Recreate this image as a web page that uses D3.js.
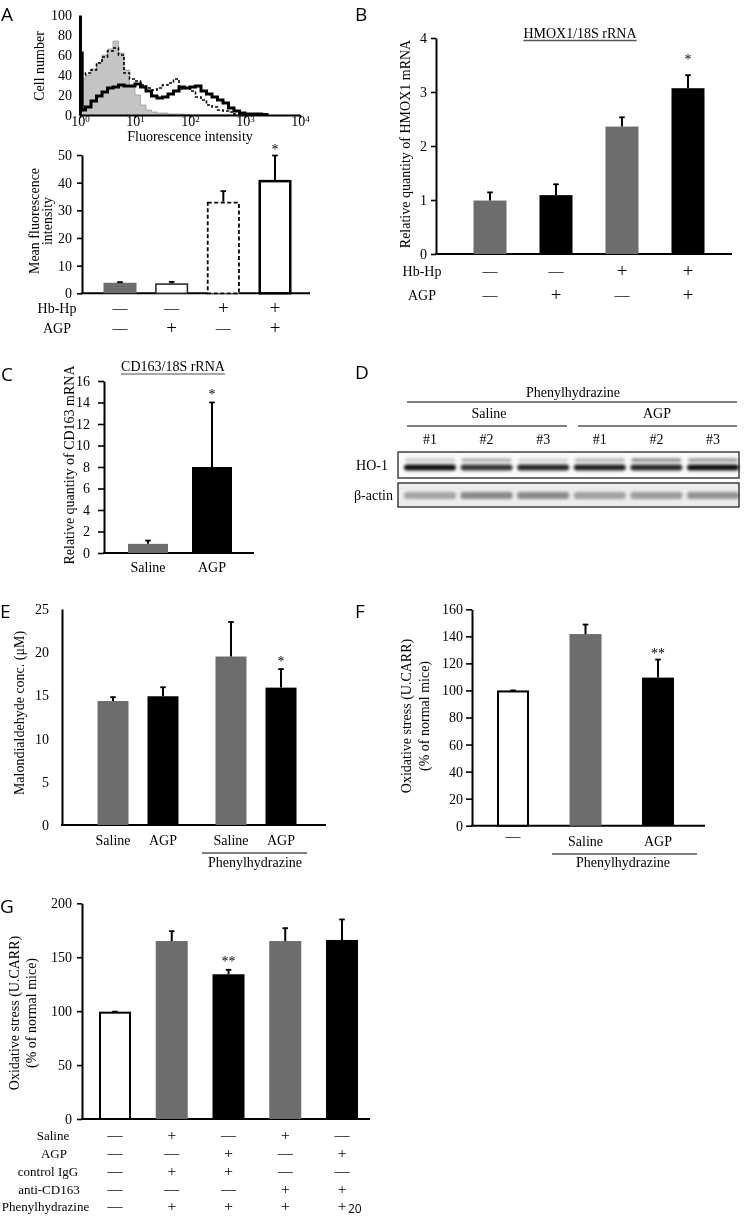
<!DOCTYPE html>
<html><head><meta charset="utf-8">
<script src="https://cdn.jsdelivr.net/npm/d3@7"></script>
<style>
body{margin:0;background:#fff}
svg{will-change:transform}
svg text{font-family:"Liberation Serif","Times New Roman",serif;font-size:14px;fill:#000}
svg text.plabel{font-family:"Open Sans","Liberation Sans",sans-serif;font-size:19px}
svg text.page{font-family:"Open Sans","Liberation Sans",sans-serif;font-size:12px}
svg text.sign{font-size:19px}
svg text.dash{font-size:15px}
svg text.sign.small{font-size:15.5px}
</style></head><body>
<svg id="fig" width="745" height="1217"></svg>
<script>
// ---------------- DATA ----------------
// Panel A (histogram): log10 fluorescence intensity bins and cell counts
const histLogX = [0,0.04,0.1,0.2,0.3,0.4,0.5,0.6,0.7,0.8,0.9,1.0,1.1,1.2,1.3,1.4,1.5,1.6,1.7,1.8,1.9,2.0,2.1,2.2,2.3,2.4,2.5,2.6,2.7,2.8,2.9,3.0,3.1,3.2,3.3,3.4];
const histControl = [35,36,40,46,52,60,66,74,62,45,30,20,10,5,3,2,2,1,1,1,0.5,0,0,0,0,0,0,0,0,0,0,0,0,0,0,0];
const histHbHp    = [40,40,42,45,52,58,64,67,60,42,36,34,30,27,25,27,30,32,36,26,27,24,18,15,10,8,5,4,3,1,0,0,0,0,0,0];
const histHbHpAgp = [62,5,8,14,19,23,27,28,30,29,29,31,28,24,19,17,18,21,24,28,27,28,29,24,21,18,15,12,7,4,2,1,1,1,0.5,0];
const histXTicks = [1,10,100,1000,10000];
const histYTicks = [0,20,40,60,80,100];

// Panel A (bars): mean fluorescence intensity
const mfiValues = [3.8,3.6,33.1,41.0];
const mfiErrors = [0.4,0.7,4.0,9.0];
const aHbHp = ["—","—","+","+"];
const aAGP  = ["—","+","—","+"];

// Panel B: HMOX1/18S rRNA
const hmoxValues = [0.99,1.09,2.36,3.07];
const hmoxErrors = [0.16,0.21,0.18,0.25];
const bHbHp = ["—","—","+","+"];
const bAGP  = ["—","+","—","+"];

// Panel C: CD163/18S rRNA
const cdCategories = ["Saline","AGP"];
const cdValues = [0.85,8.0];
const cdErrors = [0.35,6.05];

// Panel D: western blot
const blotLanes = ["#1","#2","#3","#1","#2","#3"];
const blotGroups = ["Saline","AGP"];
const ho1Lower = [0.95,0.8,0.85,0.88,0.85,0.95];
const ho1Upper = [0.22,0.35,0.18,0.32,0.5,0.45];
const actinBand = [0.3,0.42,0.42,0.32,0.34,0.38];

// Panel E: malondialdehyde
const mdaCategories = ["Saline","AGP","Saline","AGP"];
const mdaValues = [14.35,14.9,19.5,15.9];
const mdaErrors = [0.5,1.1,4.05,2.2];

// Panel F: oxidative stress
const fCategories = ["—","Saline","AGP"];
const fValues = [100,141.7,109.5];
const fErrors = [0.4,7.4,13.7];

// Panel G: oxidative stress with antibodies
const gValues = [99.5,165,134.2,165,166];
const gErrors = [0.5,9.6,4.6,12.4,19.5];
const gRowLabels = ["Saline","AGP","control IgG","anti-CD163","Phenylhydrazine"];
const gRows = [
  ["—","+","—","+","—"],
  ["—","—","+","—","+"],
  ["—","+","+","—","—"],
  ["—","—","—","+","+"],
  ["—","+","+","+","+"]
];

// ---------------- DRAWING ----------------
const GRAY = "#6d6d6d";
const svg = d3.select("#fig");

function plabel(x, y, t){ svg.append("text").attr("class","plabel").attr("x",x).attr("y",y).text(t); }
function vlabel(x, y, t){
  svg.append("text").attr("transform",`translate(${x},${y}) rotate(-90)`)
    .attr("text-anchor","middle").attr("dy","0.35em").text(t);
}
function ctext(x, y, t){ return svg.append("text").attr("x",x).attr("y",y).attr("text-anchor","middle").text(t); }
function sign(x, y, t, small){
  return svg.append("text").attr("class", t==="+"?(small?"sign small":"sign"):"dash")
    .attr("x",x).attr("y",t==="+"&&!small?y+1:y).attr("text-anchor","middle").text(t);
}
function hline(x1, x2, y, w, c){ svg.append("line").attr("x1",x1).attr("x2",x2).attr("y1",y).attr("y2",y).attr("stroke",c||"#000").attr("stroke-width",w||1.2); }
function styleAxis(g, w){
  g.selectAll("path.domain").attr("stroke","#000").attr("stroke-width",w);
  g.selectAll(".tick line").attr("stroke","#000").attr("stroke-width",1.6);
  g.selectAll(".tick text").attr("font-size",null).attr("font-family",null).attr("fill","#000");
  g.attr("font-size",null).attr("font-family",null);
}

function barPanel(o){
  const y = d3.scaleLinear().domain(o.yDomain).range([o.yBottom,o.yTop]);
  const yAxis = d3.axisLeft(y).tickValues(o.ticks).tickFormat(d3.format("d"))
    .tickSize(o.tickSize==null?5:o.tickSize).tickPadding(o.tickPad||4).tickSizeOuter(0);
  const ga = svg.append("g").attr("transform",`translate(${o.xLeft},0)`).call(yAxis);
  styleAxis(ga, 2);
  svg.append("line").attr("x1",o.xLeft-1).attr("x2",o.xRight).attr("y1",y(0)).attr("y2",y(0)).attr("stroke","#000").attr("stroke-width",2);
  const g = svg.append("g");
  o.values.forEach((v,i)=>{
    const cx = o.cx(i), w = o.barW;
    const st = o.styles[i];
    const sw = st.sw||0;
    g.append("rect").attr("x",cx-w/2+sw/2).attr("y",y(v)+sw/2).attr("width",w-sw).attr("height",y(0)-y(v)-sw/2)
      .attr("fill",st.fill).attr("stroke",st.stroke||"none").attr("stroke-width",sw)
      .attr("stroke-dasharray",st.dash||null);
    const top = y(v+o.errors[i]);
    g.append("line").attr("x1",cx).attr("x2",cx).attr("y1",y(v)).attr("y2",top).attr("stroke","#000").attr("stroke-width",2);
    g.append("line").attr("x1",cx-2.8).attr("x2",cx+2.8).attr("y1",top+0.5).attr("y2",top+0.5).attr("stroke","#000").attr("stroke-width",1.8);
    if(o.stars && o.stars[i]){
      g.append("text").attr("x",cx).attr("y",top-(o.starOff||9)+7).attr("text-anchor","middle").text(o.stars[i]);
    }
  });
  return y;
}

// ===== Panel A histogram =====
plabel(1,21,"A");
{
  const x = d3.scaleLog().domain([1,10000]).range([80,300]);
  const y = d3.scaleLinear().domain([0,100]).range([115,15]);
  const pts = s => histLogX.map((lx,i)=>[Math.pow(10,lx), s[i]]);
  const area = d3.area().x(d=>x(d[0])).y0(y(0)).y1(d=>y(d[1])).curve(d3.curveStepAfter);
  const line = d3.line().x(d=>x(d[0])).y(d=>y(d[1])).curve(d3.curveStepAfter);
  svg.append("path").datum(pts(histControl)).attr("d",area).attr("fill","#c4c4c4");
  svg.append("path").datum(pts(histControl)).attr("d",line).attr("fill","none").attr("stroke","#9a9a9a").attr("stroke-width",0.8);
  svg.append("path").datum(pts(histHbHp)).attr("d",line).attr("fill","none").attr("stroke","#000").attr("stroke-width",1.6).attr("stroke-dasharray","3,2");
  svg.append("path").datum(pts(histHbHpAgp)).attr("d",line).attr("fill","none").attr("stroke","#000").attr("stroke-width",3);
  const gy = svg.append("g").attr("transform","translate(80,0)").call(d3.axisLeft(y).tickValues(histYTicks).tickSize(0).tickPadding(8));
  styleAxis(gy,3);
  const gx = svg.append("g").attr("transform","translate(0,115)").call(d3.axisBottom(x).tickValues(histXTicks).tickSize(3).tickPadding(-2).tickSizeOuter(0));
  styleAxis(gx,2);
  gx.selectAll(".tick text").each(function(d){
    const t = d3.select(this); t.text(null);
    t.append("tspan").text("10");
    t.append("tspan").attr("dy","-0.45em").attr("font-size","9px").text(Math.round(Math.log10(d)));
  });
  ctext(190,141,"Fluorescence intensity");
  vlabel(39,66,"Cell number");
}

// ===== Panel A bars =====
{
  const cx = d3.scalePoint().domain(d3.range(4)).range([120,275]);
  barPanel({yDomain:[0,50], yTop:155, yBottom:293.3, xLeft:82, xRight:310, ticks:[0,10,20,30,40,50],
    tickPad:5, cx:i=>cx(i), barW:33, values:mfiValues, errors:mfiErrors,
    styles:[{fill:GRAY},{fill:"#fff",stroke:"#222",sw:1.5},{fill:"#fff",stroke:"#000",sw:1.8,dash:"4,2.5"},{fill:"#fff",stroke:"#000",sw:2.5}],
    stars:[null,null,null,"*"], starOff:8});
  svg.append("text").attr("transform","translate(34,221) rotate(-90)").attr("text-anchor","middle").attr("dy","0.35em").text("Mean fluorescence");
  svg.append("text").attr("transform","translate(47,221) rotate(-90)").attr("text-anchor","middle").attr("dy","0.35em").text("intensity");
  ctext(57,313,"Hb-Hp"); ctext(57,333,"AGP");
  aHbHp.forEach((s,i)=>sign(cx(i),313,s));
  aAGP.forEach((s,i)=>sign(cx(i),333,s));
}

// ===== Panel B =====
plabel(355,21,"B");
{
  const cx = d3.scalePoint().domain(d3.range(4)).range([490,688]);
  barPanel({yDomain:[0,4], yTop:38, yBottom:254, xLeft:436, xRight:732, ticks:[0,1,2,3,4], tickPad:4,
    cx:i=>cx(i), barW:33, values:hmoxValues, errors:hmoxErrors,
    styles:[{fill:GRAY},{fill:"#000"},{fill:GRAY},{fill:"#000"}], stars:[null,null,null,"*"], starOff:18});
  const t = ctext(580,38,"HMOX1/18S rRNA");
  const L = t.node().getComputedTextLength();
  hline(580-L/2,580+L/2,40.5,1.3,"#555");
  vlabel(405,144,"Relative quantity of HMOX1 mRNA");
  ctext(422,276,"Hb-Hp"); ctext(422,300,"AGP");
  bHbHp.forEach((s,i)=>sign(cx(i),276,s));
  bAGP.forEach((s,i)=>sign(cx(i),300,s));
}

// ===== Panel C =====
plabel(1,381,"C");
{
  const cx = d3.scalePoint().domain(cdCategories).range([148,212]);
  barPanel({yDomain:[0,16], yTop:381, yBottom:553, xLeft:104, xRight:254, ticks:d3.range(0,17,2), tickSize:6, tickPad:8,
    cx:i=>cx(cdCategories[i]), barW:40, values:cdValues, errors:cdErrors,
    styles:[{fill:GRAY},{fill:"#000"}], stars:[null,"*"], starOff:10});
  const t = ctext(173,371,"CD163/18S rRNA");
  const L = t.node().getComputedTextLength();
  hline(173-L/2,173+L/2,374,1.6,"#888");
  vlabel(69,465,"Relative quantity of CD163 mRNA");
  cdCategories.forEach(c=>ctext(cx(c),572,c));
}

// ===== Panel D (western blot) =====
plabel(355,379,"D");
{
  const lx = d3.scalePoint().domain(d3.range(6)).range([430,713]);
  ctext(573,397,"Phenylhydrazine");
  hline(407,737,402,1.2);
  ctext(489,418,blotGroups[0]); hline(407,567,426,1.2);
  ctext(657,418,blotGroups[1]); hline(578,737,426,1.2);
  blotLanes.forEach((l,i)=>ctext(lx(i),444,l));
  const defs = svg.append("defs");
  defs.append("filter").attr("id","blur").attr("x","-20%").attr("y","-100%").attr("width","140%").attr("height","300%")
    .append("feGaussianBlur").attr("stdDeviation",1.6);
  svg.append("rect").attr("x",398).attr("y",452).attr("width",341).attr("height",26).attr("fill","#fafafa").attr("stroke","#333").attr("stroke-width",1.4);
  svg.append("rect").attr("x",398).attr("y",483).attr("width",341).attr("height",24).attr("fill","#ececec").attr("stroke","#333").attr("stroke-width",1.4);
  const gb = svg.append("g").attr("filter","url(#blur)");
  ho1Upper.forEach((v,i)=>gb.append("rect").attr("x",lx(i)-25).attr("y",458.5).attr("width",50).attr("height",3).attr("rx",1.5).attr("fill","#000").attr("opacity",v));
  ho1Lower.forEach((v,i)=>gb.append("rect").attr("x",lx(i)-26).attr("y",464.5).attr("width",52).attr("height",6).attr("rx",3).attr("fill","#000").attr("opacity",v));
  actinBand.forEach((v,i)=>gb.append("rect").attr("x",lx(i)-26).attr("y",492).attr("width",52).attr("height",7).attr("rx",3).attr("fill","#000").attr("opacity",v));
  svg.append("text").attr("x",388).attr("y",470).attr("text-anchor","end").text("HO-1");
  svg.append("text").attr("x",393).attr("y",500).attr("text-anchor","end").text("β-actin");
}

// ===== Panel E =====
plabel(0,618,"E");
{
  const pos = d3.scaleLinear().domain([0,3.36]).range([113,281]);
  const slot = i => i + (i>=2?0.36:0);
  barPanel({yDomain:[0,25], yTop:609, yBottom:825, xLeft:62, xRight:326, ticks:[0,5,10,15,20,25], tickSize:0, tickPad:13,
    cx:i=>pos(slot(i)), barW:31, values:mdaValues, errors:mdaErrors,
    styles:[{fill:GRAY},{fill:"#000"},{fill:GRAY},{fill:"#000"}], stars:[null,null,null,"*"], starOff:10});
  mdaCategories.forEach((c,i)=>ctext(pos(slot(i)),845,c));
  hline(202,307,853,1.2);
  ctext(255,867,"Phenylhydrazine");
  vlabel(19,713,"Malondialdehyde conc. (μM)");
}

// ===== Panel F =====
plabel(355,618,"F");
{
  const cx = d3.scalePoint().domain(d3.range(3)).range([513,658]);
  barPanel({yDomain:[0,160], yTop:609.3, yBottom:825.7, xLeft:472, xRight:705, ticks:d3.range(0,161,20), tickSize:6, tickPad:3,
    cx:i=>cx(i), barW:32, values:fValues, errors:fErrors,
    styles:[{fill:"#fff",stroke:"#000",sw:2},{fill:GRAY},{fill:"#000"}], stars:[null,null,"**"], starOff:8});
  fCategories.forEach((c,i)=>{ if(c==="—") sign(cx(i),841,c); else ctext(cx(i),846,c); });
  hline(552,697,854,1.2);
  ctext(623,867,"Phenylhydrazine");
  svg.append("text").attr("transform","translate(406,716) rotate(-90)").attr("text-anchor","middle").attr("dy","0.35em").text("Oxidative stress (U.CARR)");
  svg.append("text").attr("transform","translate(424,716) rotate(-90)").attr("text-anchor","middle").attr("dy","0.35em").text("(% of normal mice)");
}

// ===== Panel G =====
plabel(0,913,"G");
{
  const cx = d3.scalePoint().domain(d3.range(5)).range([115,342]);
  barPanel({yDomain:[0,200], yTop:903.3, yBottom:1119, xLeft:82, xRight:370, ticks:[0,50,100,150,200], tickSize:5, tickPad:5,
    cx:i=>cx(i), barW:32, values:gValues, errors:gErrors,
    styles:[{fill:"#fff",stroke:"#000",sw:2},{fill:GRAY},{fill:"#000"},{fill:GRAY},{fill:"#000"}], stars:[null,null,"**",null,null], starOff:10});
  const rowY = [1140,1158,1176,1194,1211];
  const labX = [53,54,48,49,45.5];
  gRowLabels.forEach((l,r)=>ctext(labX[r],rowY[r],l).style("font-size","13px"));
  gRows.forEach((row,r)=>row.forEach((s,i)=>sign(cx(i),rowY[r],s,true)));
  svg.append("text").attr("transform","translate(14,1013) rotate(-90)").attr("text-anchor","middle").attr("dy","0.35em").text("Oxidative stress (U.CARR)");
  svg.append("text").attr("transform","translate(31,1013) rotate(-90)").attr("text-anchor","middle").attr("dy","0.35em").text("(% of normal mice)");
}

svg.append("text").attr("class","page").attr("x",348).attr("y",1213).text("20");
</script>
</body></html>
